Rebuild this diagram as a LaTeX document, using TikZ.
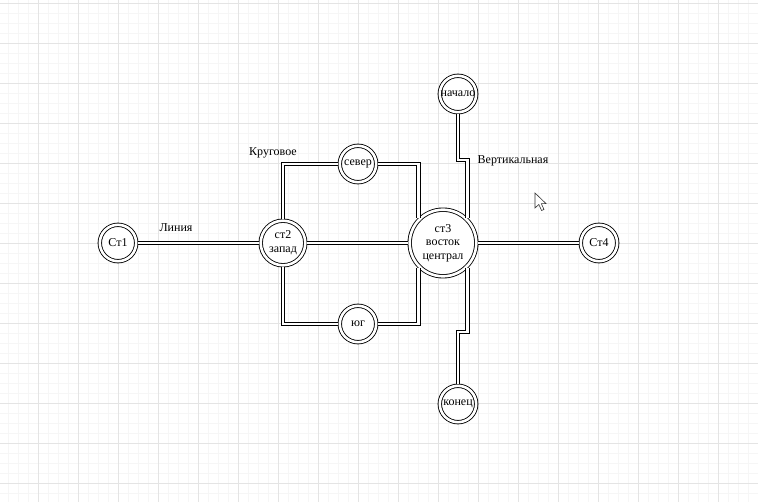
\documentclass[tikz,border=0pt]{standalone}
\usepackage{fontspec}
\setmainfont{Liberation Serif}
\usetikzlibrary{calc}
\definecolor{gridminor}{RGB}{246,246,246}
\definecolor{gridmajor}{RGB}{228,228,228}
\begin{document}
\begin{tikzpicture}[x=1pt,y=-1pt,
  stnode/.style={circle, draw, double, double distance=2.6pt, line width=0.85pt, fill=white,
    inner sep=0pt, outer sep=2.1pt, minimum size=36.4pt, align=center,
    font=\fontsize{12}{14}\selectfont},
  bignode/.style={stnode, minimum size=44.6pt},
  hugenode/.style={stnode, minimum size=66.6pt, font=\fontsize{12}{13.5}\selectfont},
  conn/.style={draw, double, double distance=2.6pt, line width=0.9pt, line join=miter},
  lbl/.style={font=\fontsize{12}{14}\selectfont, inner sep=0pt},
  minorline/.style={draw=gridminor, line width=0.6pt},
  majorline/.style={draw=gridmajor, line width=0.8pt}]
\useasboundingbox (0,0) rectangle (758,502);
\fill[white] (0,0) rectangle (758,502);
% grid
\foreach \x in {8,18,...,758} \draw[minorline] (\x,0) -- (\x,502);
\foreach \y in {3,13,...,502} \draw[minorline] (0,\y) -- (758,\y);
\foreach \x in {38,78,...,758} \draw[majorline] (\x,0) -- (\x,502);
\foreach \y in {3,43,...,502} \draw[majorline] (0,\y) -- (758,\y);
% nodes
\node[stnode] (st1) at (118,243) {Ст1};
\node[bignode] (st2) at (283,243) {ст2\\запад};
\node[stnode] (sever) at (358,164) {север};
\node[stnode] (yug) at (358,324) {юг};
\node[hugenode] (st3) at (443,243) {ст3\\восток\\централ};
\node[stnode] (nach) at (458,94) {начало};
\node[stnode] (kon) at (458,404) {конец};
\node[stnode] (st4) at (599,243) {Ст4};
\coordinate (jtop) at (458,160);
\coordinate (jbot) at (458,332);
% connectors
\draw[conn] (st1.east) -- (st2.west);
\draw[conn] (st2.east) -- (st3.west);
\draw[conn] (st3.east) -- (st4.west);
\draw[conn] (st2.north) |- (sever.west);
\draw[conn] (sever.east) -| (st3.134);
\draw[conn] (st2.south) |- (yug.west);
\draw[conn] (yug.east) -| (st3.226);
\draw[conn] (nach.south) -- (jtop) -| (st3.46);
\draw[conn] (st3.-46) |- (jbot) -- (kon.north);
% labels
\node[lbl] (l1) at (176,228) {Линия};
\node[lbl] (l2) at (273,153) {Круговое};
\node[lbl] (l3) at (513,161) {Вертикальная};
% mouse cursor
\draw[fill=white, draw=black!80, line width=0.6pt, line join=miter]
  (535,193) -- (535,208) -- (538.8,204.5) -- (541.6,210.5) -- (544,209.5) -- (541.3,203.6) -- (546,203.6) -- cycle;
\end{tikzpicture}
\end{document}
